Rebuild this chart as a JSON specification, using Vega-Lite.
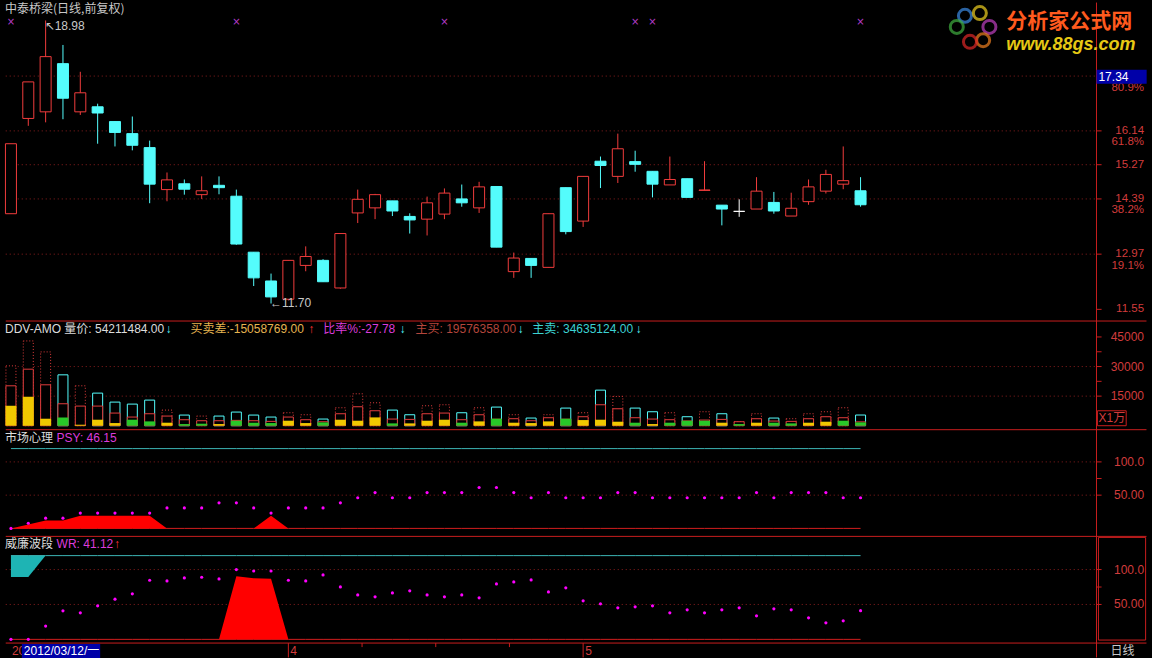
{
"$schema":"https://vega.github.io/schema/vega-lite/v6.json",
"background":"#000000",
"padding":0,
"autosize":{"type":"fit","contains":"padding"},
"width":1152,
"height":658,
"resolve":{"scale":{"y":"independent"}},
"config":{"view":{"stroke":null},"text":{"font":"Liberation Sans, Noto Sans CJK SC, DejaVu Sans","fontSize":12}},
"datasets":{
"k":[
{"i":0,"o":14.01,"h":15.81,"l":14.01,"c":15.81,"v":30348,"b":20232,"f":10116,"fc":"Y","p":0,"w":0,"pa":0,"wa":0,"wc":89.5},
{"i":1,"o":16.46,"h":17.40,"l":16.27,"c":17.40,"v":42993,"b":28662,"f":14668,"fc":"Y","p":7.69,"w":0,"pa":6,"wa":0,"wc":89.5},
{"i":2,"o":16.63,"h":18.98,"l":16.36,"c":18.05,"v":37429,"b":20738,"f":3541,"fc":"Y","p":15.38,"w":19,"pa":12,"wa":0,"wc":120},
{"i":3,"o":17.87,"h":18.35,"l":16.44,"c":16.98,"v":25796,"b":11128,"f":4215,"fc":"G","p":15.38,"w":40.9,"pa":12,"wa":0},
{"i":4,"o":16.63,"h":17.66,"l":16.55,"c":17.12,"v":20232,"b":9947,"f":500,"fc":"Y","p":23.08,"w":38,"pa":19,"wa":0},
{"i":5,"o":16.76,"h":16.84,"l":15.81,"c":16.60,"v":16523,"b":9947,"f":3035,"fc":"Y","p":23.08,"w":48,"pa":19,"wa":0},
{"i":6,"o":16.38,"h":16.38,"l":15.74,"c":16.10,"v":11971,"b":6407,"f":1349,"fc":"Y","p":23.08,"w":57.6,"pa":19,"wa":0},
{"i":7,"o":16.07,"h":16.51,"l":15.64,"c":15.77,"v":10959,"b":4384,"f":3035,"fc":"G","p":23.08,"w":65.2,"pa":19,"wa":0},
{"i":8,"o":15.71,"h":15.89,"l":14.28,"c":14.77,"v":12982,"b":6070,"f":2192,"fc":"G","p":23.08,"w":84.7,"pa":19,"wa":0},
{"i":9,"o":14.63,"h":15.07,"l":14.33,"c":14.88,"v":7924,"b":4889,"f":1517,"fc":"Y","p":30.77,"w":83.8,"pa":0,"wa":0},
{"i":10,"o":14.78,"h":14.89,"l":14.50,"c":14.64,"v":5395,"b":3035,"f":843,"fc":"G","p":30.77,"w":88,"pa":0,"wa":0},
{"i":11,"o":14.50,"h":14.97,"l":14.39,"c":14.60,"v":4889,"b":2529,"f":1012,"fc":"G","p":30.77,"w":89,"pa":0,"wa":0},
{"i":12,"o":14.74,"h":14.97,"l":14.51,"c":14.68,"v":4889,"b":2529,"f":843,"fc":"Y","p":38.46,"w":86.6,"pa":0,"wa":0},
{"i":13,"o":14.46,"h":14.63,"l":13.21,"c":13.23,"v":6913,"b":2700,"f":2529,"fc":"G","p":38.46,"w":100,"pa":0,"wa":90.4},
{"i":14,"o":13.02,"h":13.02,"l":12.15,"c":12.36,"v":5395,"b":2529,"f":1517,"fc":"G","p":30.77,"w":98,"pa":0,"wa":87.5},
{"i":15,"o":12.28,"h":12.47,"l":11.70,"c":11.87,"v":4384,"b":2192,"f":1349,"fc":"G","p":23.08,"w":98,"pa":19,"wa":87},
{"i":16,"o":11.81,"h":12.81,"l":11.78,"c":12.81,"v":6575,"b":4384,"f":2529,"fc":"Y","p":30.77,"w":84.7,"pa":0,"wa":0},
{"i":17,"o":12.68,"h":13.17,"l":12.53,"c":12.91,"v":5564,"b":3035,"f":1349,"fc":"Y","p":30.77,"w":83.8,"pa":0,"wa":0},
{"i":18,"o":12.81,"h":12.84,"l":12.26,"c":12.26,"v":3372,"b":2000,"f":1686,"fc":"G","p":30.77,"w":92.3,"pa":0,"wa":0},
{"i":19,"o":12.10,"h":13.50,"l":12.08,"c":13.50,"v":9104,"b":6070,"f":3035,"fc":"Y","p":38.46,"w":75.2,"pa":0,"wa":0},
{"i":20,"o":14.03,"h":14.63,"l":13.77,"c":14.38,"v":16186,"b":9610,"f":2529,"fc":"Y","p":46.15,"w":63.7,"pa":0,"wa":0},
{"i":21,"o":14.16,"h":14.52,"l":13.87,"c":14.50,"v":11633,"b":7587,"f":4215,"fc":"Y","p":53.85,"w":60.9,"pa":0,"wa":0},
{"i":22,"o":14.34,"h":14.34,"l":13.95,"c":14.08,"v":7924,"b":3372,"f":1180,"fc":"G","p":46.15,"w":66.6,"pa":0,"wa":0},
{"i":23,"o":13.94,"h":14.02,"l":13.50,"c":13.85,"v":5564,"b":3203,"f":1180,"fc":"Y","p":46.15,"w":69.5,"pa":0,"wa":0},
{"i":24,"o":13.87,"h":14.45,"l":13.45,"c":14.29,"v":10116,"b":6070,"f":2529,"fc":"Y","p":53.85,"w":63.7,"pa":0,"wa":0},
{"i":25,"o":14.00,"h":14.66,"l":13.87,"c":14.54,"v":10622,"b":6407,"f":3035,"fc":"Y","p":53.85,"w":60.9,"pa":0,"wa":0},
{"i":26,"o":14.39,"h":14.76,"l":14.19,"c":14.29,"v":6575,"b":3035,"f":1517,"fc":"G","p":53.85,"w":63.7,"pa":0,"wa":0},
{"i":27,"o":14.16,"h":14.83,"l":14.03,"c":14.70,"v":9104,"b":5564,"f":2192,"fc":"Y","p":61.54,"w":59.5,"pa":0,"wa":0},
{"i":28,"o":14.71,"h":14.71,"l":13.15,"c":13.15,"v":9442,"b":3300,"f":3541,"fc":"G","p":61.54,"w":79.5,"pa":0,"wa":0},
{"i":29,"o":12.52,"h":13.01,"l":12.36,"c":12.87,"v":5564,"b":3541,"f":1517,"fc":"Y","p":53.85,"w":82.3,"pa":0,"wa":0},
{"i":30,"o":12.86,"h":12.86,"l":12.36,"c":12.68,"v":3878,"b":2529,"f":1349,"fc":"Y","p":46.15,"w":85.2,"pa":0,"wa":0},
{"i":31,"o":12.63,"h":14.01,"l":12.63,"c":14.01,"v":5564,"b":4046,"f":2192,"fc":"Y","p":53.85,"w":68,"pa":0,"wa":0},
{"i":32,"o":14.68,"h":14.68,"l":13.48,"c":13.55,"v":8936,"b":3300,"f":3541,"fc":"G","p":46.15,"w":73.8,"pa":0,"wa":0},
{"i":33,"o":13.82,"h":14.97,"l":13.67,"c":14.97,"v":6575,"b":4552,"f":2866,"fc":"Y","p":46.15,"w":55.2,"pa":0,"wa":0},
{"i":34,"o":15.36,"h":15.48,"l":14.67,"c":15.25,"v":18040,"b":10622,"f":3035,"fc":"Y","p":46.15,"w":50.9,"pa":0,"wa":0},
{"i":35,"o":14.97,"h":16.07,"l":14.80,"c":15.68,"v":14837,"b":8599,"f":2023,"fc":"Y","p":53.85,"w":45.2,"pa":0,"wa":0},
{"i":36,"o":15.35,"h":15.63,"l":15.09,"c":15.28,"v":8936,"b":4046,"f":1517,"fc":"G","p":53.85,"w":46.6,"pa":0,"wa":0},
{"i":37,"o":15.10,"h":15.10,"l":14.43,"c":14.77,"v":7081,"b":3372,"f":843,"fc":"Y","p":46.15,"w":48,"pa":0,"wa":0},
{"i":38,"o":14.75,"h":15.48,"l":14.75,"c":14.89,"v":6575,"b":3035,"f":1517,"fc":"G","p":46.15,"w":38,"pa":0,"wa":0},
{"i":39,"o":14.91,"h":14.91,"l":14.43,"c":14.43,"v":4552,"b":2400,"f":2529,"fc":"G","p":46.15,"w":42.3,"pa":0,"wa":0},
{"i":40,"o":14.61,"h":15.36,"l":14.61,"c":14.62,"v":7081,"b":2866,"f":2529,"fc":"G","p":46.15,"w":38,"pa":0,"wa":0},
{"i":41,"o":14.23,"h":14.23,"l":13.71,"c":14.13,"v":6070,"b":3203,"f":1517,"fc":"Y","p":46.15,"w":42.3,"pa":0,"wa":0},
{"i":42,"o":14.07,"h":14.38,"l":13.93,"c":14.07,"v":2023,"b":2023,"f":843,"fc":"G","p":46.15,"w":45.2,"pa":0,"wa":0},
{"i":43,"o":14.13,"h":14.95,"l":14.13,"c":14.59,"v":6070,"b":3541,"f":1517,"fc":"Y","p":53.85,"w":33.7,"pa":0,"wa":0},
{"i":44,"o":14.30,"h":14.57,"l":14.01,"c":14.08,"v":3878,"b":2360,"f":1517,"fc":"G","p":46.15,"w":43.7,"pa":0,"wa":0},
{"i":45,"o":13.95,"h":14.55,"l":13.95,"c":14.15,"v":3541,"b":2192,"f":1180,"fc":"G","p":53.85,"w":42.3,"pa":0,"wa":0},
{"i":46,"o":14.32,"h":14.89,"l":14.24,"c":14.70,"v":6070,"b":3541,"f":1517,"fc":"Y","p":53.85,"w":30.9,"pa":0,"wa":0},
{"i":47,"o":14.59,"h":15.14,"l":14.53,"c":15.02,"v":7081,"b":4552,"f":2023,"fc":"Y","p":53.85,"w":23.7,"pa":0,"wa":0},
{"i":48,"o":14.77,"h":15.74,"l":14.64,"c":14.86,"v":9104,"b":4046,"f":2529,"fc":"G","p":46.15,"w":26.6,"pa":0,"wa":0},
{"i":49,"o":14.60,"h":14.95,"l":14.19,"c":14.24,"v":5421,"b":1958,"f":1686,"fc":"G","p":46.15,"w":41.12,"pa":0,"wa":0}
],
"pl":[{"g":17.55,"pct":"80.9%"},{"g":16.14,"pct":"61.8%"},{"g":15.27},{"g":14.39,"pct":"38.2%"},{"g":12.97,"pct":"19.1%"},{"g":11.55}],
"vt":[{"g":45000,"s":"45000"},{"g":37500},{"g":30000,"s":"30000"},{"g":22500},{"g":15000,"s":"15000"}],
"it":[{"g":100,"s":"100.0"},{"g":75},{"g":50,"s":"50.00"}],
"mk":[{"i":0},{"i":13},{"i":25},{"i":36},{"i":37},{"i":49}],
"mo":[{"i":16,"m":"4"},{"i":33,"m":"5"}],
"mt":[{"t":20.25},{"t":24.5},{"t":28.75}]
},
"layer":[
{"data":{"name":"pl"},"transform":[{"filter":"datum.g > 11.6"}],"mark":{"type":"rule","color":"#8c1e1e","strokeDash":[1,3],"strokeWidth":1},"encoding":{"x":{"datum":-0.3,"type":"quantitative","scale":{"domain":[-0.343,65.52],"nice":false,"zero":false},"axis":null},"x2":{"datum":62.607},"y":{"field":"g","type":"quantitative","scale":{"domain":[2.583,19.455],"nice":false,"zero":false},"axis":null}}},
{"data":{"values":[{}]},"mark":{"type":"rule","color":"#c81e1e","strokeWidth":1},"encoding":{"x":{"datum":62.607,"type":"quantitative","scale":{"domain":[-0.343,65.52],"nice":false,"zero":false},"axis":null},"y":{"datum":43.83,"type":"quantitative","scale":{"domain":[0,43.867],"nice":false,"zero":false},"axis":null},"y2":{"datum":0.04}}},
{"data":{"name":"pl"},"mark":{"type":"rule","color":"#c81e1e","strokeWidth":1},"encoding":{"x":{"datum":62.607,"type":"quantitative","scale":{"domain":[-0.343,65.52],"nice":false,"zero":false},"axis":null},"x2":{"datum":62.9},"y":{"field":"g","type":"quantitative","scale":{"domain":[2.583,19.455],"nice":false,"zero":false},"axis":null}}},
{"data":{"name":"pl"},"transform":[{"filter":"datum.g < 17.5"}],"mark":{"type":"text","align":"right","baseline":"middle","color":"#d23c3c","font":"Liberation Sans","fontSize":11.5},"encoding":{"x":{"datum":65.35,"type":"quantitative","scale":{"domain":[-0.343,65.52],"nice":false,"zero":false},"axis":null},"y":{"field":"g","type":"quantitative","scale":{"domain":[2.583,19.455],"nice":false,"zero":false},"axis":null},"text":{"field":"g","type":"quantitative","format":".2f"}}},
{"data":{"name":"pl"},"transform":[{"filter":"isValid(datum.pct)"}],"mark":{"type":"text","align":"right","baseline":"middle","dy":11.5,"color":"#d23c3c","font":"Liberation Sans","fontSize":11.5},"encoding":{"x":{"datum":65.35,"type":"quantitative","scale":{"domain":[-0.343,65.52],"nice":false,"zero":false},"axis":null},"y":{"field":"g","type":"quantitative","scale":{"domain":[2.583,19.455],"nice":false,"zero":false},"axis":null},"text":{"field":"pct"}}},
{"data":{"name":"mk"},"mark":{"type":"text","text":"×","color":"#b43cc8","fontSize":10,"font":"DejaVu Sans","baseline":"middle"},"encoding":{"x":{"field":"i","type":"quantitative","scale":{"domain":[-0.343,65.52],"nice":false,"zero":false},"axis":null},"y":{"datum":18.93,"type":"quantitative","scale":{"domain":[2.583,19.455],"nice":false,"zero":false},"axis":null}}},
{"data":{"name":"k"},"mark":{"type":"rule","strokeWidth":1},"encoding":{"x":{"field":"i","type":"quantitative","scale":{"domain":[-0.343,65.52],"nice":false,"zero":false},"axis":null},"y":{"field":"l","type":"quantitative","scale":{"domain":[2.583,19.455],"nice":false,"zero":false},"axis":null},"y2":{"field":"h"},"color":{"condition":[{"test":"datum.c > datum.o","value":"#f03c3c"},{"test":"datum.c == datum.o","value":"#ffffff"}],"value":"#54fcfc"}}},
{"data":{"name":"k"},"mark":{"type":"bar","size":11,"strokeWidth":1},"encoding":{"x":{"field":"i","type":"quantitative","scale":{"domain":[-0.343,65.52],"nice":false,"zero":false},"axis":null},"y":{"field":"o","type":"quantitative","scale":{"domain":[2.583,19.455],"nice":false,"zero":false},"axis":null},"y2":{"field":"c"},"fill":{"condition":[{"test":"datum.c > datum.o","value":"#000000"},{"test":"datum.c == datum.o","value":"#ffffff"}],"value":"#54fcfc"},"stroke":{"condition":[{"test":"datum.c > datum.o","value":"#f03c3c"},{"test":"datum.c == datum.o","value":"#ffffff"}],"value":"#54fcfc"}}},
{"data":{"values":[{"i":2,"y":18.98,"t":"↖18.98"}]},"mark":{"type":"text","align":"left","baseline":"middle","dy":6,"dx":-1,"color":"#c8c8c8","fontSize":12,"font":"Liberation Sans, DejaVu Sans"},"encoding":{"x":{"field":"i","type":"quantitative","scale":{"domain":[-0.343,65.52],"nice":false,"zero":false},"axis":null},"y":{"field":"y","type":"quantitative","scale":{"domain":[2.583,19.455],"nice":false,"zero":false},"axis":null},"text":{"field":"t"}}},
{"data":{"values":[{"i":15,"y":11.70,"t":"←11.70"}]},"mark":{"type":"text","align":"left","baseline":"middle","dy":-1,"dx":-1,"color":"#c8c8c8","fontSize":12,"font":"Liberation Sans, DejaVu Sans"},"encoding":{"x":{"field":"i","type":"quantitative","scale":{"domain":[-0.343,65.52],"nice":false,"zero":false},"axis":null},"y":{"field":"y","type":"quantitative","scale":{"domain":[2.583,19.455],"nice":false,"zero":false},"axis":null},"text":{"field":"t"}}},
{"data":{"values":[{"t":"中泰桥梁(日线,前复权)"}]},"mark":{"type":"text","align":"left","baseline":"middle","color":"#c8c8c8","fontSize":12,"font":"Noto Sans CJK SC"},"encoding":{"x":{"datum":-0.343,"type":"quantitative","scale":{"domain":[-0.343,65.52],"nice":false,"zero":false},"axis":null},"y":{"datum":19.265,"type":"quantitative","scale":{"domain":[2.583,19.455],"nice":false,"zero":false},"axis":null},"text":{"field":"t"}}},
{"data":{"values":[{}]},"mark":{"type":"rect","color":"#0000a8"},"encoding":{"x":{"datum":62.607,"type":"quantitative","scale":{"domain":[-0.343,65.52],"nice":false,"zero":false},"axis":null},"x2":{"datum":65.5},"y":{"datum":17.712,"type":"quantitative","scale":{"domain":[2.583,19.455],"nice":false,"zero":false},"axis":null},"y2":{"datum":17.353}}},
{"data":{"values":[{"t":"17.34"}]},"mark":{"type":"text","align":"left","baseline":"middle","color":"#ffffff","fontSize":12},"encoding":{"x":{"datum":62.72,"type":"quantitative","scale":{"domain":[-0.343,65.52],"nice":false,"zero":false},"axis":null},"y":{"datum":17.532,"type":"quantitative","scale":{"domain":[2.583,19.455],"nice":false,"zero":false},"axis":null},"text":{"field":"t"}}},
{"data":{"values":[{}]},"mark":{"type":"point","shape":"circle","filled":false,"size":170,"strokeWidth":3,"color":"#3c8ce6"},"encoding":{"x":{"datum":55.02,"type":"quantitative","scale":{"domain":[-0.343,65.52],"nice":false,"zero":false},"axis":null},"y":{"datum":19.1,"type":"quantitative","scale":{"domain":[2.583,19.455],"nice":false,"zero":false},"axis":null}}},
{"data":{"values":[{}]},"mark":{"type":"point","shape":"circle","filled":false,"size":170,"strokeWidth":3,"color":"#f0d020"},"encoding":{"x":{"datum":55.88,"type":"quantitative","scale":{"domain":[-0.343,65.52],"nice":false,"zero":false},"axis":null},"y":{"datum":19.17,"type":"quantitative","scale":{"domain":[2.583,19.455],"nice":false,"zero":false},"axis":null}}},
{"data":{"values":[{}]},"mark":{"type":"point","shape":"circle","filled":false,"size":170,"strokeWidth":3,"color":"#c040c0"},"encoding":{"x":{"datum":56.43,"type":"quantitative","scale":{"domain":[-0.343,65.52],"nice":false,"zero":false},"axis":null},"y":{"datum":18.814,"type":"quantitative","scale":{"domain":[2.583,19.455],"nice":false,"zero":false},"axis":null}}},
{"data":{"values":[{}]},"mark":{"type":"point","shape":"circle","filled":false,"size":170,"strokeWidth":3,"color":"#f08020"},"encoding":{"x":{"datum":56.07,"type":"quantitative","scale":{"domain":[-0.343,65.52],"nice":false,"zero":false},"axis":null},"y":{"datum":18.473,"type":"quantitative","scale":{"domain":[2.583,19.455],"nice":false,"zero":false},"axis":null}}},
{"data":{"values":[{}]},"mark":{"type":"point","shape":"circle","filled":false,"size":170,"strokeWidth":3,"color":"#e02828"},"encoding":{"x":{"datum":55.31,"type":"quantitative","scale":{"domain":[-0.343,65.52],"nice":false,"zero":false},"axis":null},"y":{"datum":18.43,"type":"quantitative","scale":{"domain":[2.583,19.455],"nice":false,"zero":false},"axis":null}}},
{"data":{"values":[{}]},"mark":{"type":"point","shape":"circle","filled":false,"size":170,"strokeWidth":3,"color":"#40b040"},"encoding":{"x":{"datum":54.55,"type":"quantitative","scale":{"domain":[-0.343,65.52],"nice":false,"zero":false},"axis":null},"y":{"datum":18.814,"type":"quantitative","scale":{"domain":[2.583,19.455],"nice":false,"zero":false},"axis":null}}},
{"data":{"values":[{"t":"分析家公式网"}]},"mark":{"type":"text","align":"left","baseline":"middle","color":"#ff5a1e","fontSize":21,"fontWeight":"bold","font":"Noto Sans CJK SC"},"encoding":{"x":{"datum":57.40,"type":"quantitative","scale":{"domain":[-0.343,65.52],"nice":false,"zero":false},"axis":null},"y":{"datum":18.94,"type":"quantitative","scale":{"domain":[2.583,19.455],"nice":false,"zero":false},"axis":null},"text":{"field":"t"}}},
{"data":{"values":[{"t":"www.88gs.com"}]},"mark":{"type":"text","align":"left","baseline":"middle","color":"#e6c814","fontSize":18,"fontWeight":"bold","fontStyle":"italic","font":"Liberation Sans"},"encoding":{"x":{"datum":57.40,"type":"quantitative","scale":{"domain":[-0.343,65.52],"nice":false,"zero":false},"axis":null},"y":{"datum":18.345,"type":"quantitative","scale":{"domain":[2.583,19.455],"nice":false,"zero":false},"axis":null},"text":{"field":"t"}}},
{"data":{"values":[{}]},"mark":{"type":"rule","color":"#c81e1e","strokeWidth":1},"encoding":{"x":{"datum":-0.3,"type":"quantitative","scale":{"domain":[-0.343,65.52],"nice":false,"zero":false},"axis":null},"x2":{"datum":65.49},"y":{"datum":11.25,"type":"quantitative","scale":{"domain":[2.583,19.455],"nice":false,"zero":false},"axis":null}}},

{"data":{"values":[{"g":30000},{"g":15000}]},"mark":{"type":"rule","color":"#8c1e1e","strokeDash":[1,3],"strokeWidth":1},"encoding":{"x":{"datum":-0.3,"type":"quantitative","scale":{"domain":[-0.343,65.52],"nice":false,"zero":false},"axis":null},"x2":{"datum":62.607},"y":{"field":"g","type":"quantitative","scale":{"domain":[-117796,214863],"nice":false,"zero":false},"axis":null}}},
{"data":{"name":"vt"},"mark":{"type":"rule","color":"#c81e1e","strokeWidth":1},"encoding":{"x":{"datum":62.607,"type":"quantitative","scale":{"domain":[-0.343,65.52],"nice":false,"zero":false},"axis":null},"x2":{"datum":62.9},"y":{"field":"g","type":"quantitative","scale":{"domain":[-117796,214863],"nice":false,"zero":false},"axis":null}}},
{"data":{"name":"vt"},"transform":[{"filter":"isValid(datum.s)"}],"mark":{"type":"text","align":"right","baseline":"middle","color":"#d23c3c","font":"Liberation Sans","fontSize":12},"encoding":{"x":{"datum":65.35,"type":"quantitative","scale":{"domain":[-0.343,65.52],"nice":false,"zero":false},"axis":null},"y":{"field":"g","type":"quantitative","scale":{"domain":[-117796,214863],"nice":false,"zero":false},"axis":null},"text":{"field":"s"}}},
{"data":{"name":"k"},"transform":[{"filter":"datum.c >= datum.o"}],"mark":{"type":"bar","size":10,"fill":"#000000","stroke":"#e03c3c","strokeWidth":1,"strokeDash":[1,2]},"encoding":{"x":{"field":"i","type":"quantitative","scale":{"domain":[-0.343,65.52],"nice":false,"zero":false},"axis":null},"y":{"field":"v","type":"quantitative","scale":{"domain":[-117796,214863],"nice":false,"zero":false},"axis":null},"y2":{"datum":0}}},
{"data":{"name":"k"},"transform":[{"filter":"datum.c < datum.o"}],"mark":{"type":"bar","size":10,"fill":"#000000","stroke":"#54fcfc","strokeWidth":1},"encoding":{"x":{"field":"i","type":"quantitative","scale":{"domain":[-0.343,65.52],"nice":false,"zero":false},"axis":null},"y":{"field":"v","type":"quantitative","scale":{"domain":[-117796,214863],"nice":false,"zero":false},"axis":null},"y2":{"datum":0}}},
{"data":{"name":"k"},"mark":{"type":"bar","size":10,"fill":"#000000","stroke":"#e03c3c","strokeWidth":1},"encoding":{"x":{"field":"i","type":"quantitative","scale":{"domain":[-0.343,65.52],"nice":false,"zero":false},"axis":null},"y":{"field":"b","type":"quantitative","scale":{"domain":[-117796,214863],"nice":false,"zero":false},"axis":null},"y2":{"datum":0}}},
{"data":{"name":"k"},"mark":{"type":"bar","size":11,"strokeWidth":0},"encoding":{"x":{"field":"i","type":"quantitative","scale":{"domain":[-0.343,65.52],"nice":false,"zero":false},"axis":null},"y":{"field":"f","type":"quantitative","scale":{"domain":[-117796,214863],"nice":false,"zero":false},"axis":null},"y2":{"datum":0},"fill":{"condition":{"test":"datum.fc == 'Y'","value":"#f0c800"},"value":"#28c828"}}},
{"data":{"values":[{"t":"DDV-AMO 量价: 54211484.00"}]},"mark":{"type":"text","align":"left","baseline":"middle","color":"#dcdcdc"},"encoding":{"x":{"datum":-0.343,"type":"quantitative","scale":{"domain":[-0.343,65.52],"nice":false,"zero":false},"axis":null},"y":{"datum":49039,"type":"quantitative","scale":{"domain":[-117796,214863],"nice":false,"zero":false},"axis":null},"text":{"field":"t"}}},
{"data":{"values":[{"t":"↓"}]},"mark":{"type":"text","align":"left","baseline":"middle","color":"#54fcfc"},"encoding":{"x":{"datum":8.92,"type":"quantitative","scale":{"domain":[-0.343,65.52],"nice":false,"zero":false},"axis":null},"y":{"datum":49039,"type":"quantitative","scale":{"domain":[-117796,214863],"nice":false,"zero":false},"axis":null},"text":{"field":"t"}}},
{"data":{"values":[{"t":"买卖差:-15058769.00"}]},"mark":{"type":"text","align":"left","baseline":"middle","color":"#e6b450"},"encoding":{"x":{"datum":10.35,"type":"quantitative","scale":{"domain":[-0.343,65.52],"nice":false,"zero":false},"axis":null},"y":{"datum":49039,"type":"quantitative","scale":{"domain":[-117796,214863],"nice":false,"zero":false},"axis":null},"text":{"field":"t"}}},
{"data":{"values":[{"t":"↑"}]},"mark":{"type":"text","align":"left","baseline":"middle","color":"#ff3232"},"encoding":{"x":{"datum":17.15,"type":"quantitative","scale":{"domain":[-0.343,65.52],"nice":false,"zero":false},"axis":null},"y":{"datum":49039,"type":"quantitative","scale":{"domain":[-117796,214863],"nice":false,"zero":false},"axis":null},"text":{"field":"t"}}},
{"data":{"values":[{"t":"比率%:-27.78"}]},"mark":{"type":"text","align":"left","baseline":"middle","color":"#dc3cdc"},"encoding":{"x":{"datum":18.01,"type":"quantitative","scale":{"domain":[-0.343,65.52],"nice":false,"zero":false},"axis":null},"y":{"datum":49039,"type":"quantitative","scale":{"domain":[-117796,214863],"nice":false,"zero":false},"axis":null},"text":{"field":"t"}}},
{"data":{"values":[{"t":"↓"}]},"mark":{"type":"text","align":"left","baseline":"middle","color":"#54fcfc"},"encoding":{"x":{"datum":22.41,"type":"quantitative","scale":{"domain":[-0.343,65.52],"nice":false,"zero":false},"axis":null},"y":{"datum":49039,"type":"quantitative","scale":{"domain":[-117796,214863],"nice":false,"zero":false},"axis":null},"text":{"field":"t"}}},
{"data":{"values":[{"t":"主买: 19576358.00"}]},"mark":{"type":"text","align":"left","baseline":"middle","color":"#b4463c"},"encoding":{"x":{"datum":23.33,"type":"quantitative","scale":{"domain":[-0.343,65.52],"nice":false,"zero":false},"axis":null},"y":{"datum":49039,"type":"quantitative","scale":{"domain":[-117796,214863],"nice":false,"zero":false},"axis":null},"text":{"field":"t"}}},
{"data":{"values":[{"t":"↓"}]},"mark":{"type":"text","align":"left","baseline":"middle","color":"#54fcfc"},"encoding":{"x":{"datum":29.22,"type":"quantitative","scale":{"domain":[-0.343,65.52],"nice":false,"zero":false},"axis":null},"y":{"datum":49039,"type":"quantitative","scale":{"domain":[-117796,214863],"nice":false,"zero":false},"axis":null},"text":{"field":"t"}}},
{"data":{"values":[{"t":"主卖: 34635124.00"}]},"mark":{"type":"text","align":"left","baseline":"middle","color":"#3cd2d2"},"encoding":{"x":{"datum":30.07,"type":"quantitative","scale":{"domain":[-0.343,65.52],"nice":false,"zero":false},"axis":null},"y":{"datum":49039,"type":"quantitative","scale":{"domain":[-117796,214863],"nice":false,"zero":false},"axis":null},"text":{"field":"t"}}},
{"data":{"values":[{"t":"↓"}]},"mark":{"type":"text","align":"left","baseline":"middle","color":"#54fcfc"},"encoding":{"x":{"datum":36.02,"type":"quantitative","scale":{"domain":[-0.343,65.52],"nice":false,"zero":false},"axis":null},"y":{"datum":49039,"type":"quantitative","scale":{"domain":[-117796,214863],"nice":false,"zero":false},"axis":null},"text":{"field":"t"}}},
{"data":{"values":[{}]},"mark":{"type":"rect","fill":"#000000","stroke":"#c81e1e","strokeWidth":1},"encoding":{"x":{"datum":62.66,"type":"quantitative","scale":{"domain":[-0.343,65.52],"nice":false,"zero":false},"axis":null},"x2":{"datum":64.32},"y":{"datum":7583,"type":"quantitative","scale":{"domain":[-117796,214863],"nice":false,"zero":false},"axis":null},"y2":{"datum":0}}},
{"data":{"values":[{"t":"X1万"}]},"mark":{"type":"text","align":"left","baseline":"middle","color":"#d23c3c"},"encoding":{"x":{"datum":62.72,"type":"quantitative","scale":{"domain":[-0.343,65.52],"nice":false,"zero":false},"axis":null},"y":{"datum":3792,"type":"quantitative","scale":{"domain":[-117796,214863],"nice":false,"zero":false},"axis":null},"text":{"field":"t"}}},
{"data":{"values":[{}]},"mark":{"type":"rule","color":"#c81e1e","strokeWidth":1},"encoding":{"x":{"datum":-0.3,"type":"quantitative","scale":{"domain":[-0.343,65.52],"nice":false,"zero":false},"axis":null},"x2":{"datum":65.49},"y":{"datum":-2022,"type":"quantitative","scale":{"domain":[-117796,214863],"nice":false,"zero":false},"axis":null}}},

{"data":{"values":[{"g":100},{"g":50}]},"mark":{"type":"rule","color":"#8c1e1e","strokeDash":[1,3],"strokeWidth":1},"encoding":{"x":{"datum":-0.3,"type":"quantitative","scale":{"domain":[-0.343,65.52],"nice":false,"zero":false},"axis":null},"x2":{"datum":62.607},"y":{"field":"g","type":"quantitative","scale":{"domain":[-194.9,791.6],"nice":false,"zero":false},"axis":null}}},
{"data":{"name":"it"},"mark":{"type":"rule","color":"#c81e1e","strokeWidth":1},"encoding":{"x":{"datum":62.607,"type":"quantitative","scale":{"domain":[-0.343,65.52],"nice":false,"zero":false},"axis":null},"x2":{"datum":62.9},"y":{"field":"g","type":"quantitative","scale":{"domain":[-194.9,791.6],"nice":false,"zero":false},"axis":null}}},
{"data":{"name":"it"},"transform":[{"filter":"isValid(datum.s)"}],"mark":{"type":"text","align":"right","baseline":"middle","color":"#d23c3c","font":"Liberation Sans","fontSize":12},"encoding":{"x":{"datum":65.35,"type":"quantitative","scale":{"domain":[-0.343,65.52],"nice":false,"zero":false},"axis":null},"y":{"field":"g","type":"quantitative","scale":{"domain":[-194.9,791.6],"nice":false,"zero":false},"axis":null},"text":{"field":"s"}}},
{"data":{"name":"k"},"mark":{"type":"line","color":"#3cb4b4","strokeWidth":1},"encoding":{"x":{"field":"i","type":"quantitative","scale":{"domain":[-0.343,65.52],"nice":false,"zero":false},"axis":null},"y":{"datum":120,"type":"quantitative","scale":{"domain":[-194.9,791.6],"nice":false,"zero":false},"axis":null}}},
{"data":{"name":"k"},"mark":{"type":"line","color":"#d21e1e","strokeWidth":1},"encoding":{"x":{"field":"i","type":"quantitative","scale":{"domain":[-0.343,65.52],"nice":false,"zero":false},"axis":null},"y":{"datum":0,"type":"quantitative","scale":{"domain":[-194.9,791.6],"nice":false,"zero":false},"axis":null}}},
{"data":{"name":"k"},"mark":{"type":"area","color":"#ff0000","opacity":1},"encoding":{"x":{"field":"i","type":"quantitative","scale":{"domain":[-0.343,65.52],"nice":false,"zero":false},"axis":null},"y":{"field":"pa","type":"quantitative","scale":{"domain":[-194.9,791.6],"nice":false,"zero":false},"axis":null},"y2":{"datum":0}}},
{"data":{"name":"k"},"mark":{"type":"circle","size":10,"color":"#ff00ff","opacity":1},"encoding":{"x":{"field":"i","type":"quantitative","scale":{"domain":[-0.343,65.52],"nice":false,"zero":false},"axis":null},"y":{"field":"p","type":"quantitative","scale":{"domain":[-194.9,791.6],"nice":false,"zero":false},"axis":null}}},
{"data":{"values":[{"t":"市场心理"}]},"mark":{"type":"text","align":"left","baseline":"middle","color":"#dcdcdc"},"encoding":{"x":{"datum":-0.343,"type":"quantitative","scale":{"domain":[-0.343,65.52],"nice":false,"zero":false},"axis":null},"y":{"datum":136.4,"type":"quantitative","scale":{"domain":[-194.9,791.6],"nice":false,"zero":false},"axis":null},"text":{"field":"t"}}},
{"data":{"values":[{"t":"PSY: 46.15"}]},"mark":{"type":"text","align":"left","baseline":"middle","color":"#dc3cdc"},"encoding":{"x":{"datum":2.63,"type":"quantitative","scale":{"domain":[-0.343,65.52],"nice":false,"zero":false},"axis":null},"y":{"datum":136.4,"type":"quantitative","scale":{"domain":[-194.9,791.6],"nice":false,"zero":false},"axis":null},"text":{"field":"t"}}},
{"data":{"values":[{}]},"mark":{"type":"rule","color":"#c81e1e","strokeWidth":1},"encoding":{"x":{"datum":-0.3,"type":"quantitative","scale":{"domain":[-0.343,65.52],"nice":false,"zero":false},"axis":null},"x2":{"datum":65.49},"y":{"datum":-12,"type":"quantitative","scale":{"domain":[-194.9,791.6],"nice":false,"zero":false},"axis":null}}},

{"data":{"values":[{"g":100},{"g":50}]},"mark":{"type":"rule","color":"#8c1e1e","strokeDash":[1,3],"strokeWidth":1},"encoding":{"x":{"datum":-0.3,"type":"quantitative","scale":{"domain":[-0.343,65.52],"nice":false,"zero":false},"axis":null},"x2":{"datum":62.607},"y":{"field":"g","type":"quantitative","scale":{"domain":[-26.71,913.29],"nice":false,"zero":false},"axis":null}}},
{"data":{"name":"it"},"mark":{"type":"rule","color":"#c81e1e","strokeWidth":1},"encoding":{"x":{"datum":62.607,"type":"quantitative","scale":{"domain":[-0.343,65.52],"nice":false,"zero":false},"axis":null},"x2":{"datum":62.9},"y":{"field":"g","type":"quantitative","scale":{"domain":[-26.71,913.29],"nice":false,"zero":false},"axis":null}}},
{"data":{"name":"it"},"transform":[{"filter":"isValid(datum.s)"}],"mark":{"type":"text","align":"right","baseline":"middle","color":"#d23c3c","font":"Liberation Sans","fontSize":12},"encoding":{"x":{"datum":65.35,"type":"quantitative","scale":{"domain":[-0.343,65.52],"nice":false,"zero":false},"axis":null},"y":{"field":"g","type":"quantitative","scale":{"domain":[-26.71,913.29],"nice":false,"zero":false},"axis":null},"text":{"field":"s"}}},
{"data":{"name":"k"},"transform":[{"filter":"isValid(datum.wc)"}],"mark":{"type":"area","color":"#1eb4b4","opacity":1},"encoding":{"x":{"field":"i","type":"quantitative","scale":{"domain":[-0.343,65.52],"nice":false,"zero":false},"axis":null},"y":{"field":"wc","type":"quantitative","scale":{"domain":[-26.71,913.29],"nice":false,"zero":false},"axis":null},"y2":{"datum":120}}},
{"data":{"name":"k"},"mark":{"type":"line","color":"#3cb4b4","strokeWidth":1},"encoding":{"x":{"field":"i","type":"quantitative","scale":{"domain":[-0.343,65.52],"nice":false,"zero":false},"axis":null},"y":{"datum":120,"type":"quantitative","scale":{"domain":[-26.71,913.29],"nice":false,"zero":false},"axis":null}}},
{"data":{"name":"k"},"mark":{"type":"line","color":"#d21e1e","strokeWidth":1},"encoding":{"x":{"field":"i","type":"quantitative","scale":{"domain":[-0.343,65.52],"nice":false,"zero":false},"axis":null},"y":{"datum":0,"type":"quantitative","scale":{"domain":[-26.71,913.29],"nice":false,"zero":false},"axis":null}}},
{"data":{"name":"k"},"mark":{"type":"area","color":"#ff0000","opacity":1},"encoding":{"x":{"field":"i","type":"quantitative","scale":{"domain":[-0.343,65.52],"nice":false,"zero":false},"axis":null},"y":{"field":"wa","type":"quantitative","scale":{"domain":[-26.71,913.29],"nice":false,"zero":false},"axis":null},"y2":{"datum":0}}},
{"data":{"name":"k"},"mark":{"type":"circle","size":10,"color":"#ff00ff","opacity":1},"encoding":{"x":{"field":"i","type":"quantitative","scale":{"domain":[-0.343,65.52],"nice":false,"zero":false},"axis":null},"y":{"field":"w","type":"quantitative","scale":{"domain":[-26.71,913.29],"nice":false,"zero":false},"axis":null}}},
{"data":{"values":[{"t":"威廉波段"}]},"mark":{"type":"text","align":"left","baseline":"middle","color":"#dcdcdc"},"encoding":{"x":{"datum":-0.343,"type":"quantitative","scale":{"domain":[-0.343,65.52],"nice":false,"zero":false},"axis":null},"y":{"datum":136.1,"type":"quantitative","scale":{"domain":[-26.71,913.29],"nice":false,"zero":false},"axis":null},"text":{"field":"t"}}},
{"data":{"values":[{"t":"WR: 41.12"}]},"mark":{"type":"text","align":"left","baseline":"middle","color":"#dc3cdc"},"encoding":{"x":{"datum":2.63,"type":"quantitative","scale":{"domain":[-0.343,65.52],"nice":false,"zero":false},"axis":null},"y":{"datum":136.1,"type":"quantitative","scale":{"domain":[-26.71,913.29],"nice":false,"zero":false},"axis":null},"text":{"field":"t"}}},
{"data":{"values":[{"t":"↑"}]},"mark":{"type":"text","align":"left","baseline":"middle","color":"#ff3232"},"encoding":{"x":{"datum":5.95,"type":"quantitative","scale":{"domain":[-0.343,65.52],"nice":false,"zero":false},"axis":null},"y":{"datum":136.1,"type":"quantitative","scale":{"domain":[-26.71,913.29],"nice":false,"zero":false},"axis":null},"text":{"field":"t"}}},
{"data":{"values":[{}]},"mark":{"type":"rect","fill":null,"fillOpacity":0,"stroke":"#c81e1e","strokeWidth":1},"encoding":{"x":{"datum":62.72,"type":"quantitative","scale":{"domain":[-0.343,65.52],"nice":false,"zero":false},"axis":null},"x2":{"datum":65.44},"y":{"datum":146.1,"type":"quantitative","scale":{"domain":[-26.71,913.29],"nice":false,"zero":false},"axis":null},"y2":{"datum":-1}}},
{"data":{"values":[{}]},"mark":{"type":"rule","color":"#c81e1e","strokeWidth":1},"encoding":{"x":{"datum":-0.3,"type":"quantitative","scale":{"domain":[-0.343,65.52],"nice":false,"zero":false},"axis":null},"x2":{"datum":65.49},"y":{"datum":-5.29,"type":"quantitative","scale":{"domain":[-26.71,913.29],"nice":false,"zero":false},"axis":null}}},

{"data":{"values":[{"t":"20"}]},"mark":{"type":"text","align":"left","baseline":"middle","color":"#d23c3c"},"encoding":{"x":{"datum":0.057,"type":"quantitative","scale":{"domain":[-0.343,65.52],"nice":false,"zero":false},"axis":null},"y":{"datum":0.5,"type":"quantitative","scale":{"domain":[0,43.867],"nice":false,"zero":false},"axis":null},"text":{"field":"t"}}},
{"data":{"values":[{}]},"mark":{"type":"rect","color":"#0000a8"},"encoding":{"x":{"datum":0.629,"type":"quantitative","scale":{"domain":[-0.343,65.52],"nice":false,"zero":false},"axis":null},"x2":{"datum":5.146},"y":{"datum":0.93,"type":"quantitative","scale":{"domain":[0,43.867],"nice":false,"zero":false},"axis":null},"y2":{"datum":0}}},
{"data":{"values":[{"t":"2012/03/12/一"}]},"mark":{"type":"text","align":"left","baseline":"middle","color":"#ffffff"},"encoding":{"x":{"datum":0.743,"type":"quantitative","scale":{"domain":[-0.343,65.52],"nice":false,"zero":false},"axis":null},"y":{"datum":0.5,"type":"quantitative","scale":{"domain":[0,43.867],"nice":false,"zero":false},"axis":null},"text":{"field":"t"}}},
{"data":{"name":"mo"},"mark":{"type":"rule","color":"#c81e1e","strokeWidth":1},"encoding":{"x":{"field":"i","type":"quantitative","scale":{"domain":[-0.343,65.52],"nice":false,"zero":false},"axis":null},"y":{"datum":1,"type":"quantitative","scale":{"domain":[0,43.867],"nice":false,"zero":false},"axis":null},"y2":{"datum":0.04}}},
{"data":{"name":"mo"},"mark":{"type":"text","align":"left","baseline":"middle","dx":2,"color":"#d23c3c"},"encoding":{"x":{"field":"i","type":"quantitative","scale":{"domain":[-0.343,65.52],"nice":false,"zero":false},"axis":null},"y":{"datum":0.5,"type":"quantitative","scale":{"domain":[0,43.867],"nice":false,"zero":false},"axis":null},"text":{"field":"m"}}},
{"data":{"name":"mt"},"mark":{"type":"rule","color":"#c81e1e","strokeWidth":1},"encoding":{"x":{"field":"t","type":"quantitative","scale":{"domain":[-0.343,65.52],"nice":false,"zero":false},"axis":null},"y":{"datum":1,"type":"quantitative","scale":{"domain":[0,43.867],"nice":false,"zero":false},"axis":null},"y2":{"datum":0.73}}},
{"data":{"values":[{"t":"日线"}]},"mark":{"type":"text","align":"left","baseline":"middle","color":"#c8c8c8","font":"Noto Sans CJK SC"},"encoding":{"x":{"datum":63.41,"type":"quantitative","scale":{"domain":[-0.343,65.52],"nice":false,"zero":false},"axis":null},"y":{"datum":0.5,"type":"quantitative","scale":{"domain":[0,43.867],"nice":false,"zero":false},"axis":null},"text":{"field":"t"}}}
]
}
